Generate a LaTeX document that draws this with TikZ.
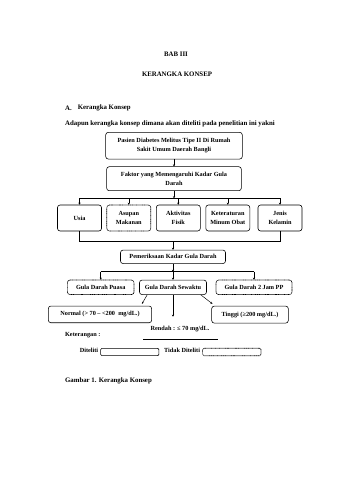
\documentclass[tikz,border=0pt]{standalone}
\usepackage{fontspec}
\setmainfont{Liberation Serif}
\usetikzlibrary{positioning,arrows.meta,calc}
\def\px{0.6176mm}

\begin{document}
\begin{tikzpicture}[x=\px,y=-\px,
 font=\bfseries\fontsize{11}{15.5}\selectfont,
 box/.style={draw,line width=1pt,rounded corners=1.6mm,inner sep=0pt,align=center},
 dbox/.style={box,line width=1.1pt,dash pattern=on 1.2pt off .8pt},
 arr/.style={-{Stealth[length=3.6pt,width=3.8pt]},line width=.8pt},
 ln/.style={line width=.8pt},
 txt/.style={inner sep=0pt,anchor=west,font=\bfseries\fontsize{12}{14}\selectfont}]
\useasboundingbox[fill=white] (0,0) rectangle (340,480);
% judul halaman
\node[inner sep=0pt,font=\bfseries\fontsize{12}{14}\selectfont] (bab) at (176,54) {BAB III};
\node[inner sep=0pt,font=\bfseries\fontsize{12}{14}\selectfont] (judul) at (177,74.7) {KERANGKA KONSEP};
\node[txt] (subA) at (65,108) {A.};
\node[txt] (subjudul) at (77.7,108) {Kerangka Konsep};
\node[txt] (pengantar) at (65,124) {Adapun kerangka konsep dimana akan diteliti pada penelitian ini yakni};
% kotak utama
\node[box,minimum width=136.6*\px,minimum height=26.7*\px] (pasien) at (174,145.7) {Pasien Diabetes Melitus Tipe II Di Rumah\\Sakit Umum Daerah Bangli};
\node[box,minimum width=134.7*\px,minimum height=24*\px] (faktor) at (174,178.7) {Faktor yang Memengaruhi Kadar Gula\\Darah};
% faktor-faktor
\node[box,minimum width=44*\px,minimum height=26*\px] (usia) at (79.5,218) {Usia};
\node[dbox,minimum width=44*\px,minimum height=26*\px] (asupan) at (128.8,218) {Asupan\\Makanan};
\node[box,minimum width=44*\px,minimum height=26*\px] (aktivitas) at (178.3,218) {Aktivitas\\Fisik};
\node[box,minimum width=44*\px,minimum height=26*\px] (obat) at (227.8,218) {Keteraturan\\Minum Obat};
\node[box,minimum width=44*\px,minimum height=26*\px] (jenis) at (280,218) {Jenis\\Kelamin};
\node[box,minimum width=105*\px,minimum height=13.5*\px] (periksa) at (173,256.8) {Pemeriksaan Kadar Gula Darah};
% jenis pemeriksaan
\node[dbox,minimum width=66.7*\px,minimum height=14.5*\px] (puasa) at (100.7,287.3) {Gula Darah Puasa};
\node[box,minimum width=67*\px,minimum height=14.5*\px] (sewaktu) at (173,287.3) {Gula Darah Sewaktu};
\node[dbox,minimum width=76*\px,minimum height=14.5*\px] (pp) at (254,287.3) {Gula Darah 2 Jam PP};
% hasil
\node[box,minimum width=103.4*\px,minimum height=16.7*\px] (normal) at (100,314.4) {Normal (> 70 -- <200~ mg/dL.)};
\node[box,minimum width=76.6*\px,minimum height=17*\px] (tinggi) at (250,314.6) {Tinggi (≥200 mg/dL.)};
\node[inner sep=0pt] (rendah) at (180,329.3) {Rendah : ≤ 70 mg/dL.};
\coordinate (ujung) at (173,316.7);
% keterangan
\node[inner sep=0pt,anchor=west] (ket) at (65,335) {Keterangan :};
\node[inner sep=0pt,anchor=east] (diteliti) at (98.3,350.7) {Diteliti};
\node[box,rounded corners=.8mm,minimum width=58.3*\px,minimum height=7.4*\px] (kotak1) at (129.8,352) {};
\node[inner sep=0pt,anchor=west] (tidak) at (164,350.7) {Tidak Diteliti};
\node[dbox,rounded corners=.8mm,minimum width=58.3*\px,minimum height=7.4*\px] (kotak2) at (231.8,352) {};
\node[txt] (gambar) at (65,380.7) {Gambar 1. Kerangka Konsep};
% garis
\coordinate (bar1) at (0,198.3);
\coordinate (bar2) at (0,241.7);
\coordinate (bar3) at (0,271.7);
\draw[arr] (pasien) -- (faktor);
\draw[arr] (faktor.south) -- (faktor.south |- bar1);
\draw[ln] (usia.north |- bar1) -- (jenis.north |- bar1);
\foreach \k in {usia,asupan,aktivitas,obat,jenis}
  \draw[arr] (\k.north |- bar1) -- (\k.north);
\draw[ln] (usia.south) -- (usia.south |- bar2) -- (jenis.south |- bar2) -- (jenis.south);
\draw[arr] (periksa.north |- bar2) -- (periksa.north);
\draw[arr] (periksa.south) -- (periksa.south |- bar3);
\draw[ln] (puasa.north |- bar3) -- (pp.north |- bar3);
\draw[arr] (puasa.north |- bar3) -- (puasa.north);
\draw[arr] (periksa.south |- bar3) -- (sewaktu.north);
\draw[arr] (pp.north |- bar3) -- (pp.north);
\draw[arr] ($(sewaktu.south west)+(8,0)$) -- ($(normal.north east)+(-10,-2)$);
\draw[arr] ($(sewaktu.south east)+(-6,0)$) -- ($(tinggi.north west)+(1,-2)$);
\draw[arr] (sewaktu.south) -- (ujung);
\draw[ln] ($(rendah.south)+(-36.7,7)$) -- ($(rendah.south)+(38.3,7)$);
\end{tikzpicture}
\end{document}
